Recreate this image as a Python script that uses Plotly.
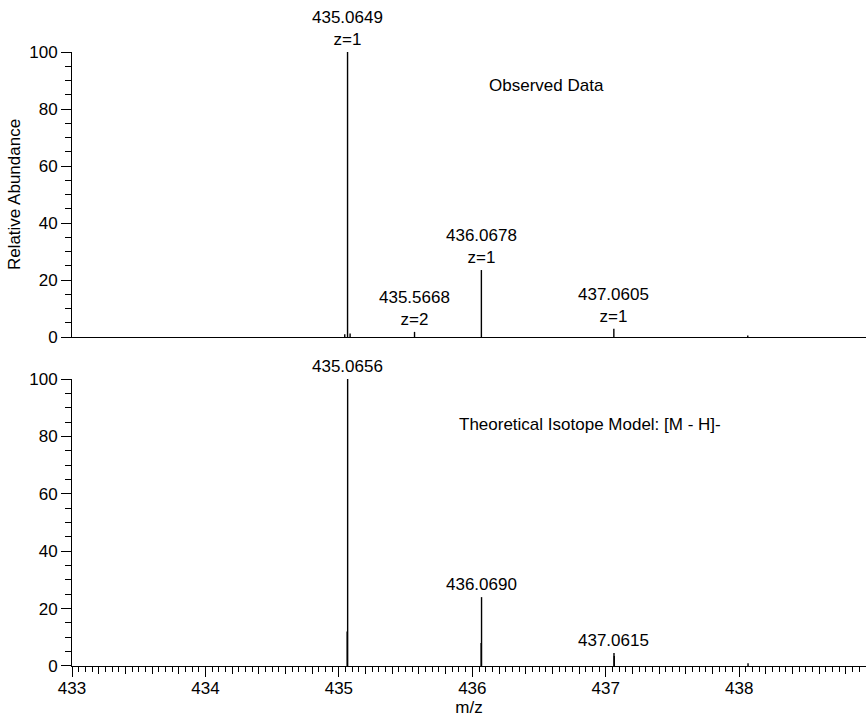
import plotly.graph_objects as go

# ---- data ----
obs_mz = [435.0440, 435.0649, 435.0840, 435.5668, 436.0678, 437.0605, 438.0640]
obs_int = [1.0, 100.0, 1.2, 1.8, 23.5, 2.9, 0.5]
obs_labels = ["435.0649<br>z=1", "435.5668<br>z=2", "436.0678<br>z=1", "437.0605<br>z=1"]
obs_label_mz = [435.0649, 435.5668, 436.0678, 437.0605]
obs_label_int = [100.0, 1.8, 23.5, 2.9]

theo_mz = [435.0620, 435.0656, 436.0660, 436.0690, 437.0615, 437.0635, 438.0660]
theo_int = [12.0, 100.0, 8.0, 24.0, 4.5, 3.5, 1.0]
theo_labels = ["435.0656", "436.0690", "437.0615"]
theo_label_mz = [435.0656, 436.0690, 437.0615]
theo_label_int = [100.0, 24.0, 4.5]

x_range = [433.0, 438.95]
int_ticks = [433, 434, 435, 436, 437, 438]
mid_ticks = [round(433 + 0.2 * i, 1) for i in range(30)]

FONT = "Liberation Sans, Arial, sans-serif"
FS = 17


def sticks(mz, inten):
    xs, ys = [], []
    for m, h in zip(mz, inten):
        xs += [m, m, None]
        ys += [0, h, None]
    return xs, ys


fig = go.Figure()
x1, y1 = sticks(obs_mz, obs_int)
fig.add_trace(go.Scatter(x=x1, y=y1, mode="lines", line=dict(color="black", width=1.4),
                         xaxis="x", yaxis="y", hoverinfo="skip", showlegend=False))
x2, y2 = sticks(theo_mz, theo_int)
fig.add_trace(go.Scatter(x=x2, y=y2, mode="lines", line=dict(color="black", width=1.4),
                         xaxis="x2", yaxis="y2", hoverinfo="skip", showlegend=False))
# dummy trace for the overlay axis carrying the long integer ticks
fig.add_trace(go.Scatter(x=[433.0], y=[0], mode="markers", marker=dict(opacity=0),
                         xaxis="x3", yaxis="y2", hoverinfo="skip", showlegend=False))

ann = []
for t, m, h in zip(obs_labels, obs_label_mz, obs_label_int):
    ann.append(dict(x=m, y=h, xref="x", yref="y", text=t, showarrow=False,
                    yanchor="bottom", xanchor="center", yshift=1,
                    font=dict(family=FONT, size=FS, color="black")))
for t, m, h in zip(theo_labels, theo_label_mz, theo_label_int):
    ann.append(dict(x=m, y=h, xref="x2", yref="y2", text=t, showarrow=False,
                    yanchor="bottom", xanchor="center", yshift=1,
                    font=dict(family=FONT, size=FS, color="black")))
ann.append(dict(x=436.556, y=88.4, xref="x", yref="y", text="Observed Data", showarrow=False,
                font=dict(family=FONT, size=FS, color="black")))
ann.append(dict(x=436.88, y=84, xref="x2", yref="y2", text="Theoretical Isotope Model: [M - H]-",
                showarrow=False, font=dict(family=FONT, size=FS, color="black")))

yax_common = dict(range=[0, 100], tickvals=[0, 20, 40, 60, 80, 100], ticks="outside", ticklen=10,
                  tickwidth=1, tickcolor="black", showline=True, linecolor="black", linewidth=1,
                  showgrid=False, zeroline=False, tickfont=dict(family=FONT, size=FS, color="black"),
                  minor=dict(dtick=5, ticks="outside", ticklen=6, tickcolor="black", tickwidth=1,
                             showgrid=False))

fig.update_layout(
    width=866, height=717,
    margin=dict(l=72, r=0, t=52, b=51),
    plot_bgcolor="white", paper_bgcolor="white",
    font=dict(family=FONT, size=FS, color="black"),
    xaxis=dict(domain=[0, 1], anchor="y", range=x_range, showline=True, linecolor="black",
               linewidth=1, ticks="", showticklabels=False, showgrid=False, zeroline=False),
    yaxis=dict(domain=[0.5358, 1], anchor="x",
               title=dict(text="Relative Abundance", standoff=4,
                          font=dict(family=FONT, size=FS, color="black")),
               **yax_common),
    xaxis2=dict(domain=[0, 1], anchor="y2", range=x_range, showline=True, linecolor="black",
                linewidth=1, tickvals=mid_ticks,
                ticktext=[str(int(v)) if abs(v - round(v)) < 1e-9 else "" for v in mid_ticks],
                ticks="outside", ticklen=7, tickwidth=1, tickcolor="black",
                tickfont=dict(family=FONT, size=FS, color="black"),
                showgrid=False, zeroline=False,
                minor=dict(dtick=0.05, tick0=433, ticks="outside", ticklen=5, tickcolor="black",
                           tickwidth=1, showgrid=False),
                title=dict(text="m/z", standoff=1, font=dict(family=FONT, size=FS, color="black"))),
    xaxis3=dict(overlaying="x2", anchor="y2", range=x_range, tickvals=int_ticks,
                ticks="outside", ticklen=10, tickwidth=1, tickcolor="black",
                showticklabels=False, showline=False, showgrid=False, zeroline=False, side="bottom"),
    yaxis2=dict(domain=[0, 0.4674], anchor="x2", **yax_common),
    annotations=ann,
)

fig.write_html("out.html")
